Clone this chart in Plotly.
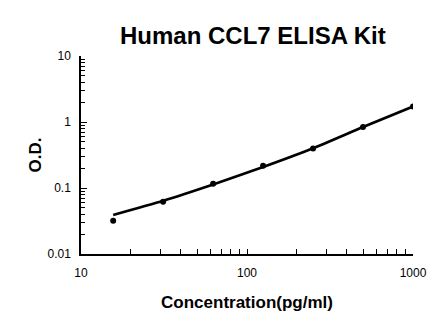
import plotly.graph_objects as go

conc = [15.625, 31.25, 62.5, 125, 250, 500, 1000]
od = [0.032, 0.062, 0.116, 0.217, 0.395, 0.84, 1.72]
curve_x = [15.625, 31.25, 62.5, 125, 250, 500, 1000]
curve_y = [0.039, 0.064, 0.113, 0.208, 0.40, 0.84, 1.72]

fig = go.Figure()
fig.add_trace(go.Scatter(x=curve_x, y=curve_y, mode="lines",
                         line=dict(color="black", width=2.7, shape="spline", smoothing=0.6),
                         hoverinfo="skip"))
fig.add_trace(go.Scatter(x=conc, y=od, mode="markers",
                         marker=dict(color="black", size=6)))

fig.update_layout(
    width=446, height=326,
    margin=dict(l=81, r=33, t=56, b=72),
    paper_bgcolor="white", plot_bgcolor="white",
    showlegend=False,
    font=dict(family="Liberation Sans, Arial, sans-serif", color="black"),
    title=dict(text="<b>Human CCL7 ELISA Kit</b>", x=0.567, xanchor="center",
               y=0.89, yanchor="middle", font=dict(size=24, color="black")),
)
fig.update_xaxes(type="log", range=[1, 3], dtick=1,
                 showline=True, linecolor="black", linewidth=1.5,
                 ticks="inside", ticklen=5, tickcolor="black",
                 minor=dict(ticks="inside", ticklen=5, tickcolor="black", showgrid=False),
                 showgrid=False, zeroline=False,
                 tickfont=dict(size=12, color="black"), ticklabelstandoff=7,
                 title=dict(text="<b>Concentration(pg/ml)</b>", font=dict(size=17, color="black"), standoff=17))
fig.update_yaxes(type="log", range=[-2, 1], dtick=1,
                 showline=True, linecolor="black", linewidth=1.5,
                 ticks="inside", ticklen=6, tickcolor="black",
                 minor=dict(ticks="inside", ticklen=4, tickcolor="black", showgrid=False),
                 showgrid=False, zeroline=False,
                 tickfont=dict(size=12, color="black"), ticklabelstandoff=6,
                 title=dict(text="<b>O.D.</b>", font=dict(size=17, color="black"), standoff=2))

fig.write_html("out.html")
